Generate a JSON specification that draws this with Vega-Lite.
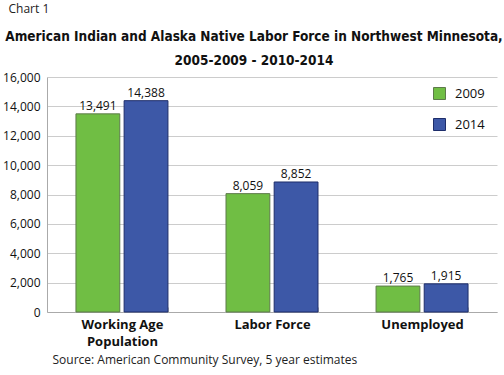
{
  "$schema": "https://vega.github.io/schema/vega-lite/v6.json",
  "autosize": "none",
  "width": 450,
  "height": 235,
  "padding": {"left": 47, "top": 77, "right": 7, "bottom": 63},
  "background": "white",
  "config": {"view": {"stroke": null}, "font": "Open Sans"},
  "title": {
    "text": ["American Indian and Alaska Native Labor Force in Northwest Minnesota,", "2005-2009 - 2010-2014"],
    "font": "DejaVu Sans Condensed",
    "fontWeight": "bold",
    "fontSize": 13.5,
    "lineHeight": 24,
    "color": "#111111",
    "anchor": "middle",
    "dx": -18,
    "offset": 0,
    "dy": 65
  },
  "data": {
    "values": [
      {"category": "Working Age Population", "year": "2009", "value": 13491},
      {"category": "Working Age Population", "year": "2014", "value": 14388},
      {"category": "Labor Force", "year": "2009", "value": 8059},
      {"category": "Labor Force", "year": "2014", "value": 8852},
      {"category": "Unemployed", "year": "2009", "value": 1765},
      {"category": "Unemployed", "year": "2014", "value": 1915}
    ]
  },
  "encoding": {
    "x": {
      "field": "category",
      "type": "nominal",
      "sort": ["Working Age Population", "Labor Force", "Unemployed"],
      "scale": {"paddingInner": 0.387, "paddingOuter": 0.193},
      "axis": {
        "title": "Source: American Community Survey, 5 year estimates",
        "titleFont": "Open Sans",
        "titleFontSize": 12,
        "titleFontWeight": "normal",
        "titleColor": "#222222",
        "titleAnchor": "start",
        "titleAlign": "left",
        "titleBaseline": "alphabetic",
        "titleX": 5,
        "titleY": 51,
        "labelAngle": 0,
        "labelFont": "Open Sans",
        "labelFontSize": 13,
        "labelFontWeight": "bold",
        "labelColor": "#111111",
        "labelLineHeight": 17,
        "labelPadding": 11,
        "labelExpr": "datum.label == 'Working Age Population' ? ['Working Age', 'Population'] : datum.label",
        "tickBand": "extent",
        "tickSize": -5,
        "tickColor": "#bbbbbb",
        "domainColor": "#aaaaaa"
      }
    },
    "xOffset": {"field": "year", "type": "nominal", "scale": {"paddingInner": 0.09}},
    "y": {
      "field": "value",
      "type": "quantitative",
      "scale": {"domain": [0, 16000]},
      "axis": {
        "title": "Chart 1",
        "titleAngle": 0,
        "titleAlign": "left",
        "titleBaseline": "alphabetic",
        "titleX": -39,
        "titleY": -65,
        "titleFont": "Open Sans",
        "titleFontSize": 12,
        "titleFontWeight": "normal",
        "titleColor": "#222222",
        "values": [0, 2000, 4000, 6000, 8000, 10000, 12000, 14000, 16000],
        "format": ",d",
        "labelFont": "Open Sans",
        "labelFontSize": 12,
        "labelColor": "#111111",
        "labelPadding": 7,
        "ticks": false,
        "grid": true,
        "gridColor": "#cccccc",
        "domainColor": "#aaaaaa"
      }
    }
  },
  "layer": [
    {
      "mark": {"type": "bar", "strokeWidth": 1},
      "encoding": {
        "color": {
          "field": "year",
          "type": "nominal",
          "scale": {"domain": ["2009", "2014"], "range": ["#70BE44", "#3D58A7"]},
          "legend": {
            "title": null,
            "orient": "none",
            "legendX": 386,
            "legendY": 10,
            "symbolType": "square",
            "symbolSize": 144,
            "symbolStrokeWidth": 1,
            "labelFont": "Open Sans",
            "labelFontSize": 13,
            "labelColor": "#111111",
            "labelOffset": 9,
            "rowPadding": 14
          }
        },
        "stroke": {
          "field": "year",
          "type": "nominal",
          "scale": {"domain": ["2009", "2014"], "range": ["#5d7a4a", "#1d2d6a"]},
          "legend": null
        }
      }
    },
    {
      "mark": {"type": "text", "baseline": "alphabetic", "dy": -4, "fontSize": 12, "font": "Open Sans", "color": "#111111"},
      "encoding": {
        "text": {"field": "value", "type": "quantitative", "format": ",d"}
      }
    }
  ]
}
